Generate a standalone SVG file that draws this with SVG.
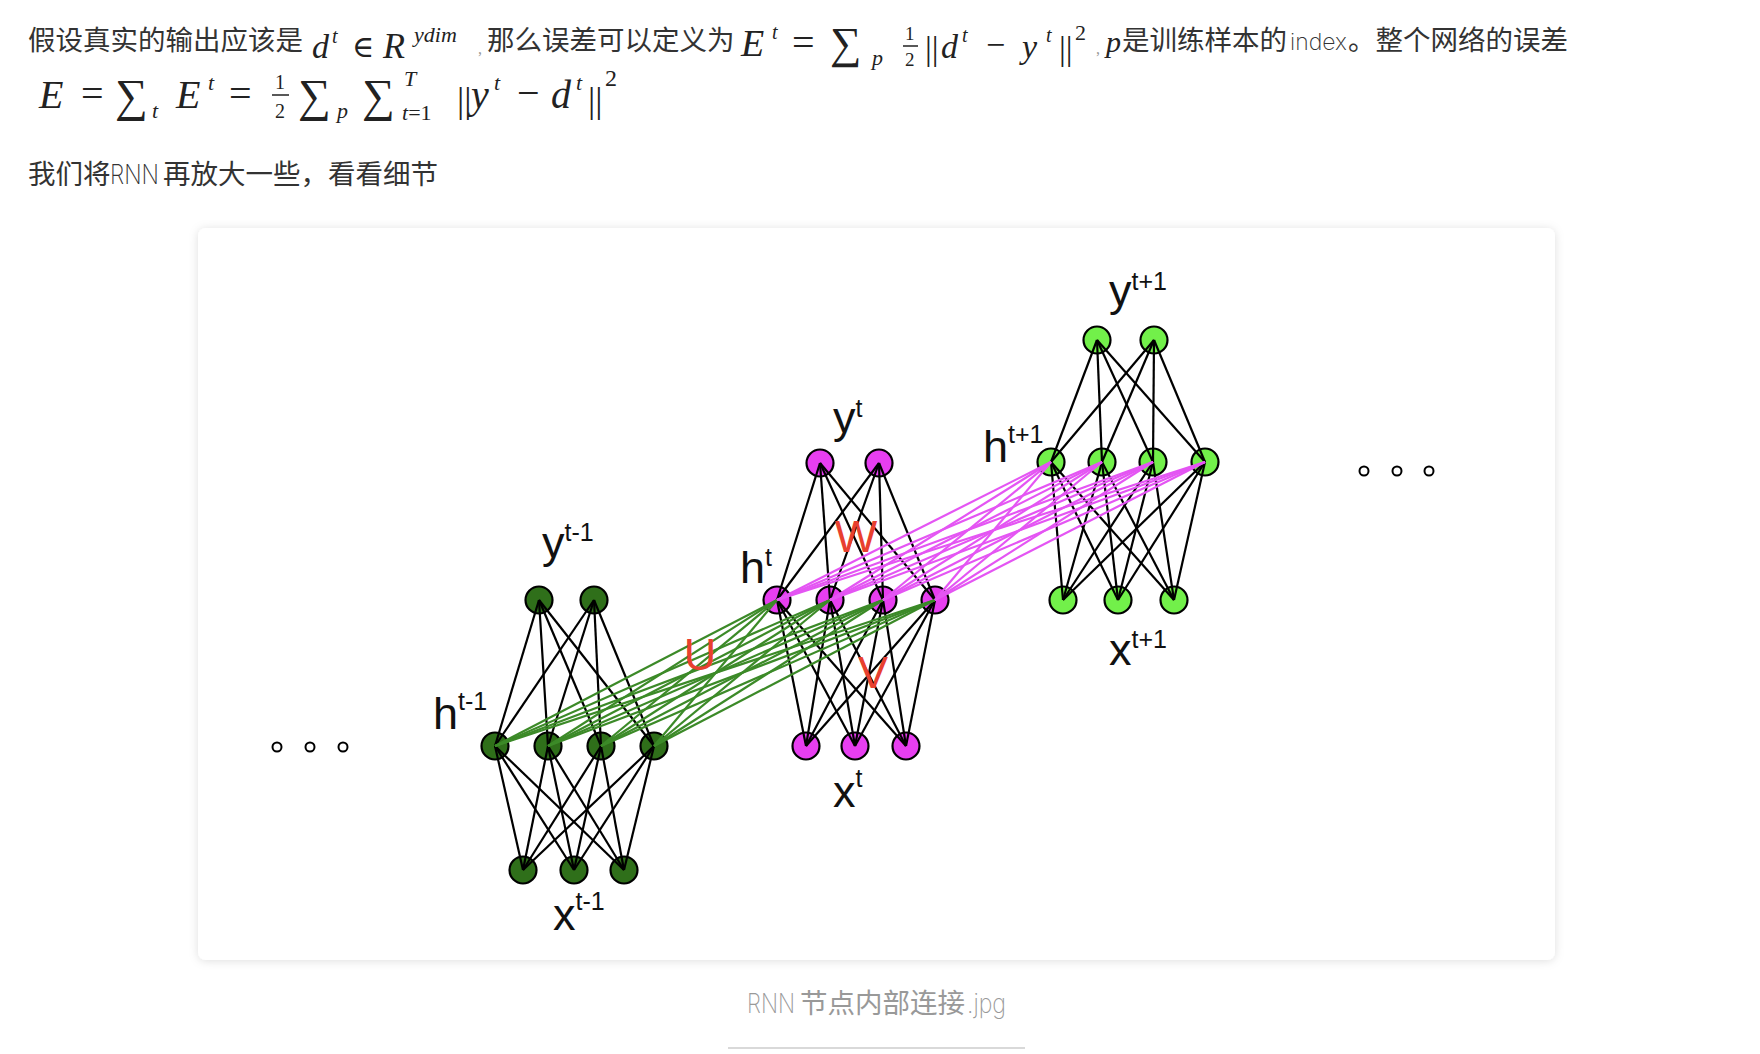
<svg xmlns="http://www.w3.org/2000/svg" width="1760" height="1054" viewBox="0 0 1760 1054">
<defs>
<filter id="sh" x="-5%" y="-5%" width="110%" height="110%">
<feDropShadow dx="0" dy="1" stdDeviation="5" flood-color="#000" flood-opacity="0.13"/>
</filter>
<style>
.cjk{font-family:"Liberation Sans","Noto Sans CJK SC",sans-serif;font-size:27.5px;fill:#333}
.thin{font-family:Inter,"Liberation Sans",sans-serif;font-weight:200;font-size:27px;fill:#333}
.idx{font-family:Inter,"Liberation Sans",sans-serif;font-weight:200;font-size:23px;fill:#333}
.mi{font-family:"Liberation Serif","DejaVu Serif",serif;font-style:italic;fill:#222}
.mu{font-family:"Liberation Serif","DejaVu Serif",serif;fill:#222}
.cm{font-family:"Liberation Serif",serif;font-size:16px;fill:#999}
.lbl{font-family:"Liberation Sans",Arial,sans-serif;font-size:45px;fill:#111}
.sup{font-size:25px}
.red{font-family:"Liberation Sans",Arial,sans-serif;font-size:45px;fill:#e8402f;text-anchor:middle}
.cap{font-family:"Liberation Sans","Noto Sans CJK SC",sans-serif;font-size:27.5px;fill:#999}
.capthin{font-family:Inter,"Liberation Sans",sans-serif;font-weight:200;font-size:27px;fill:#999}
.dg{fill:#2f6f1a;stroke:#000;stroke-width:2.2}
.mg{fill:#e73ef0;stroke:#000;stroke-width:2.2}
.lg{fill:#72f04a;stroke:#000;stroke-width:2.2}
.dot{fill:#fff;stroke:#000;stroke-width:2}
.e{stroke:#000;stroke-width:2.2}
.u{stroke:#3c8a28;stroke-width:2.2}
.w{stroke:#e455f3;stroke-width:2.2}
</style>
</defs>
<rect width="1760" height="1054" fill="#fff"/>

<g id="intro">
<text class="cjk" x="28" y="50">假设真实的输出应该是</text>
<text class="mi" x="312" y="58" font-size="34">d</text>
<text class="mi" x="332" y="43" font-size="20">t</text>
<text class="mu" x="352" y="57" font-size="30">∈</text>
<text class="mi" x="383" y="58" font-size="36">R</text>
<text class="mi" x="414" y="42" font-size="22">ydim</text>
<text class="cm" x="478" y="54">,</text>
<text class="cjk" x="487" y="50">那么误差可以定义为</text>
<text class="mi" x="741" y="56" font-size="38">E</text>
<text class="mi" x="772" y="39" font-size="20">t</text>
<text class="mu" x="792" y="56" font-size="40">=</text>
<text class="mu" x="830" y="58" font-size="44">∑</text>
<text class="mi" x="872" y="65" font-size="22">p</text>
<text class="mu" x="905" y="40" font-size="19">1</text>
<line x1="903" y1="46" x2="918" y2="46" stroke="#222" stroke-width="1.5"/>
<text class="mu" x="905" y="66" font-size="19">2</text>
<text class="mu" x="925" y="60" font-size="34">||</text>
<text class="mi" x="941" y="58" font-size="34">d</text>
<text class="mi" x="962" y="42" font-size="20">t</text>
<text class="mu" x="986" y="56" font-size="34">−</text>
<text class="mi" x="1022" y="58" font-size="34">y</text>
<text class="mi" x="1046" y="42" font-size="20">t</text>
<text class="mu" x="1059" y="60" font-size="34">||</text>
<text class="mu" x="1075" y="40" font-size="22">2</text>
<text class="cm" x="1096" y="54">,</text>
<text y="50"><tspan class="mi" x="1106" y="52" font-size="30">p</tspan><tspan class="cjk" x="1122" y="50">是训练样本的</tspan></text>
<text class="idx" x="1290" y="50">index</text>
<text class="cjk" x="1348" y="50">。整个网络的误差</text>

<text class="mi" x="39" y="108" font-size="40">E</text>
<text class="mu" x="81" y="107" font-size="40">=</text>
<text class="mu" x="115" y="111" font-size="46">∑</text>
<text class="mi" x="152" y="118" font-size="22">t</text>
<text class="mi" x="176" y="108" font-size="40">E</text>
<text class="mi" x="208" y="90" font-size="22">t</text>
<text class="mu" x="229" y="107" font-size="40">=</text>
<text class="mu" x="275" y="89" font-size="20">1</text>
<line x1="272" y1="95" x2="289" y2="95" stroke="#222" stroke-width="1.5"/>
<text class="mu" x="275" y="118" font-size="20">2</text>
<text class="mu" x="298" y="111" font-size="46">∑</text>
<text class="mi" x="337" y="118" font-size="22">p</text>
<text class="mu" x="362" y="111" font-size="46">∑</text>
<text class="mi" x="404" y="86" font-size="22">T</text>
<text class="mi" x="402" y="120" font-size="22">t<tspan class="mu" font-style="normal">=1</tspan></text>
<text class="mu" x="457" y="112" font-size="36">||</text>
<text class="mi" x="471" y="108" font-size="40">y</text>
<text class="mi" x="494" y="90" font-size="22">t</text>
<text class="mu" x="517" y="106" font-size="40">−</text>
<text class="mi" x="551" y="108" font-size="40">d</text>
<text class="mi" x="576" y="90" font-size="22">t</text>
<text class="mu" x="588" y="112" font-size="36">||</text>
<text class="mu" x="605" y="86" font-size="24">2</text>

<text class="cjk" x="28" y="184">我们将</text>
<text class="thin" x="110" y="184" textLength="49" lengthAdjust="spacingAndGlyphs">RNN</text>
<text class="cjk" x="163" y="184">再放大一些，看看细节</text>
</g>

<rect id="card" x="198" y="228" width="1357" height="732" rx="8" fill="#fff" filter="url(#sh)"/>

<g id="nodes">
<g id="yL1"><circle class="dg" cx="539" cy="600" r="13.5"/></g>
<g id="yL2"><circle class="dg" cx="594" cy="600" r="13.5"/></g>
<g id="hL1"><circle class="dg" cx="495" cy="746" r="13.5"/></g>
<g id="hL2"><circle class="dg" cx="548" cy="746" r="13.5"/></g>
<g id="hL3"><circle class="dg" cx="601" cy="746" r="13.5"/></g>
<g id="hL4"><circle class="dg" cx="654" cy="746" r="13.5"/></g>
<g id="xL1"><circle class="dg" cx="523" cy="870" r="13.5"/></g>
<g id="xL2"><circle class="dg" cx="574" cy="870" r="13.5"/></g>
<g id="xL3"><circle class="dg" cx="624" cy="870" r="13.5"/></g>

<g id="yM1"><circle class="mg" cx="820" cy="463" r="13.5"/></g>
<g id="yM2"><circle class="mg" cx="879" cy="463" r="13.5"/></g>
<g id="hM1"><circle class="mg" cx="777" cy="600" r="13.5"/></g>
<g id="hM2"><circle class="mg" cx="830" cy="600" r="13.5"/></g>
<g id="hM3"><circle class="mg" cx="883" cy="600" r="13.5"/></g>
<g id="hM4"><circle class="mg" cx="935" cy="600" r="13.5"/></g>
<g id="xM1"><circle class="mg" cx="806" cy="746" r="13.5"/></g>
<g id="xM2"><circle class="mg" cx="855" cy="746" r="13.5"/></g>
<g id="xM3"><circle class="mg" cx="906" cy="746" r="13.5"/></g>

<g id="yR1"><circle class="lg" cx="1097" cy="340" r="13.5"/></g>
<g id="yR2"><circle class="lg" cx="1154" cy="340" r="13.5"/></g>
<g id="hR1"><circle class="lg" cx="1051" cy="462" r="13.5"/></g>
<g id="hR2"><circle class="lg" cx="1102" cy="462" r="13.5"/></g>
<g id="hR3"><circle class="lg" cx="1153" cy="462" r="13.5"/></g>
<g id="hR4"><circle class="lg" cx="1205" cy="462" r="13.5"/></g>
<g id="xR1"><circle class="lg" cx="1063" cy="600" r="13.5"/></g>
<g id="xR2"><circle class="lg" cx="1118" cy="600" r="13.5"/></g>
<g id="xR3"><circle class="lg" cx="1174" cy="600" r="13.5"/></g>

<g id="dotsL"><circle class="dot" cx="277" cy="747" r="4.5"/><circle class="dot" cx="310" cy="747" r="4.5"/><circle class="dot" cx="343" cy="747" r="4.5"/></g>
<g id="dotsR"><circle class="dot" cx="1364" cy="471" r="4.5"/><circle class="dot" cx="1397" cy="471" r="4.5"/><circle class="dot" cx="1429" cy="471" r="4.5"/></g>
</g>

<g id="connectors">
<line class="e" x1="539" y1="600" x2="495" y2="746"/><line class="e" x1="539" y1="600" x2="548" y2="746"/><line class="e" x1="539" y1="600" x2="601" y2="746"/><line class="e" x1="539" y1="600" x2="654" y2="746"/>
<line class="e" x1="594" y1="600" x2="495" y2="746"/><line class="e" x1="594" y1="600" x2="548" y2="746"/><line class="e" x1="594" y1="600" x2="601" y2="746"/><line class="e" x1="594" y1="600" x2="654" y2="746"/>
<line class="e" x1="495" y1="746" x2="523" y2="870"/><line class="e" x1="495" y1="746" x2="574" y2="870"/><line class="e" x1="495" y1="746" x2="624" y2="870"/>
<line class="e" x1="548" y1="746" x2="523" y2="870"/><line class="e" x1="548" y1="746" x2="574" y2="870"/><line class="e" x1="548" y1="746" x2="624" y2="870"/>
<line class="e" x1="601" y1="746" x2="523" y2="870"/><line class="e" x1="601" y1="746" x2="574" y2="870"/><line class="e" x1="601" y1="746" x2="624" y2="870"/>
<line class="e" x1="654" y1="746" x2="523" y2="870"/><line class="e" x1="654" y1="746" x2="574" y2="870"/><line class="e" x1="654" y1="746" x2="624" y2="870"/>
<line class="e" x1="820" y1="463" x2="777" y2="600"/><line class="e" x1="820" y1="463" x2="830" y2="600"/><line class="e" x1="820" y1="463" x2="883" y2="600"/><line class="e" x1="820" y1="463" x2="935" y2="600"/>
<line class="e" x1="879" y1="463" x2="777" y2="600"/><line class="e" x1="879" y1="463" x2="830" y2="600"/><line class="e" x1="879" y1="463" x2="883" y2="600"/><line class="e" x1="879" y1="463" x2="935" y2="600"/>
<line class="e" x1="777" y1="600" x2="806" y2="746"/><line class="e" x1="777" y1="600" x2="855" y2="746"/><line class="e" x1="777" y1="600" x2="906" y2="746"/>
<line class="e" x1="830" y1="600" x2="806" y2="746"/><line class="e" x1="830" y1="600" x2="855" y2="746"/><line class="e" x1="830" y1="600" x2="906" y2="746"/>
<line class="e" x1="883" y1="600" x2="806" y2="746"/><line class="e" x1="883" y1="600" x2="855" y2="746"/><line class="e" x1="883" y1="600" x2="906" y2="746"/>
<line class="e" x1="935" y1="600" x2="806" y2="746"/><line class="e" x1="935" y1="600" x2="855" y2="746"/><line class="e" x1="935" y1="600" x2="906" y2="746"/>
<line class="e" x1="1097" y1="340" x2="1051" y2="462"/><line class="e" x1="1097" y1="340" x2="1102" y2="462"/><line class="e" x1="1097" y1="340" x2="1153" y2="462"/><line class="e" x1="1097" y1="340" x2="1205" y2="462"/>
<line class="e" x1="1154" y1="340" x2="1051" y2="462"/><line class="e" x1="1154" y1="340" x2="1102" y2="462"/><line class="e" x1="1154" y1="340" x2="1153" y2="462"/><line class="e" x1="1154" y1="340" x2="1205" y2="462"/>
<line class="e" x1="1051" y1="462" x2="1063" y2="600"/><line class="e" x1="1051" y1="462" x2="1118" y2="600"/><line class="e" x1="1051" y1="462" x2="1174" y2="600"/>
<line class="e" x1="1102" y1="462" x2="1063" y2="600"/><line class="e" x1="1102" y1="462" x2="1118" y2="600"/><line class="e" x1="1102" y1="462" x2="1174" y2="600"/>
<line class="e" x1="1153" y1="462" x2="1063" y2="600"/><line class="e" x1="1153" y1="462" x2="1118" y2="600"/><line class="e" x1="1153" y1="462" x2="1174" y2="600"/>
<line class="e" x1="1205" y1="462" x2="1063" y2="600"/><line class="e" x1="1205" y1="462" x2="1118" y2="600"/><line class="e" x1="1205" y1="462" x2="1174" y2="600"/>
<line class="u" x1="495" y1="746" x2="777" y2="600"/><line class="u" x1="495" y1="746" x2="830" y2="600"/><line class="u" x1="495" y1="746" x2="883" y2="600"/><line class="u" x1="495" y1="746" x2="935" y2="600"/>
<line class="u" x1="548" y1="746" x2="777" y2="600"/><line class="u" x1="548" y1="746" x2="830" y2="600"/><line class="u" x1="548" y1="746" x2="883" y2="600"/><line class="u" x1="548" y1="746" x2="935" y2="600"/>
<line class="u" x1="601" y1="746" x2="777" y2="600"/><line class="u" x1="601" y1="746" x2="830" y2="600"/><line class="u" x1="601" y1="746" x2="883" y2="600"/><line class="u" x1="601" y1="746" x2="935" y2="600"/>
<line class="u" x1="654" y1="746" x2="777" y2="600"/><line class="u" x1="654" y1="746" x2="830" y2="600"/><line class="u" x1="654" y1="746" x2="883" y2="600"/><line class="u" x1="654" y1="746" x2="935" y2="600"/>
<line class="w" x1="777" y1="600" x2="1051" y2="462"/><line class="w" x1="777" y1="600" x2="1102" y2="462"/><line class="w" x1="777" y1="600" x2="1153" y2="462"/><line class="w" x1="777" y1="600" x2="1205" y2="462"/>
<line class="w" x1="830" y1="600" x2="1051" y2="462"/><line class="w" x1="830" y1="600" x2="1102" y2="462"/><line class="w" x1="830" y1="600" x2="1153" y2="462"/><line class="w" x1="830" y1="600" x2="1205" y2="462"/>
<line class="w" x1="883" y1="600" x2="1051" y2="462"/><line class="w" x1="883" y1="600" x2="1102" y2="462"/><line class="w" x1="883" y1="600" x2="1153" y2="462"/><line class="w" x1="883" y1="600" x2="1205" y2="462"/>
<line class="w" x1="935" y1="600" x2="1051" y2="462"/><line class="w" x1="935" y1="600" x2="1102" y2="462"/><line class="w" x1="935" y1="600" x2="1153" y2="462"/><line class="w" x1="935" y1="600" x2="1205" y2="462"/>
</g>

<g id="labels">
<text class="lbl" x="542" y="558">y<tspan class="sup" dy="-17">t-1</tspan></text>
<text class="lbl" x="433" y="729">h<tspan class="sup" dy="-19">t-1</tspan></text>
<text class="lbl" x="553" y="930">x<tspan class="sup" dy="-20">t-1</tspan></text>
<text class="lbl" x="833" y="433">y<tspan class="sup" dy="-16">t</tspan></text>
<text class="lbl" x="740" y="583">h<tspan class="sup" dy="-17">t</tspan></text>
<text class="lbl" x="833" y="807">x<tspan class="sup" dy="-20">t</tspan></text>
<text class="lbl" x="1109" y="306">y<tspan class="sup" dy="-16">t+1</tspan></text>
<text class="lbl" x="983" y="462">h<tspan class="sup" dy="-19">t+1</tspan></text>
<text class="lbl" x="1109" y="665">x<tspan class="sup" dy="-17">t+1</tspan></text>
<text class="red" x="700" y="670">U</text>
<text class="red" x="856" y="552">W</text>
<text class="red" x="873" y="688">V</text>
</g>

<g id="caption">
<text class="capthin" x="747" y="1013" textLength="48" lengthAdjust="spacingAndGlyphs">RNN</text>
<text class="cap" x="800" y="1013">节点内部连接</text>
<text class="capthin" x="967" y="1013" textLength="39" lengthAdjust="spacingAndGlyphs">.jpg</text>
<line x1="728" y1="1048" x2="1025" y2="1048" stroke="#d9d9d9" stroke-width="2"/>
</g>
</svg>
